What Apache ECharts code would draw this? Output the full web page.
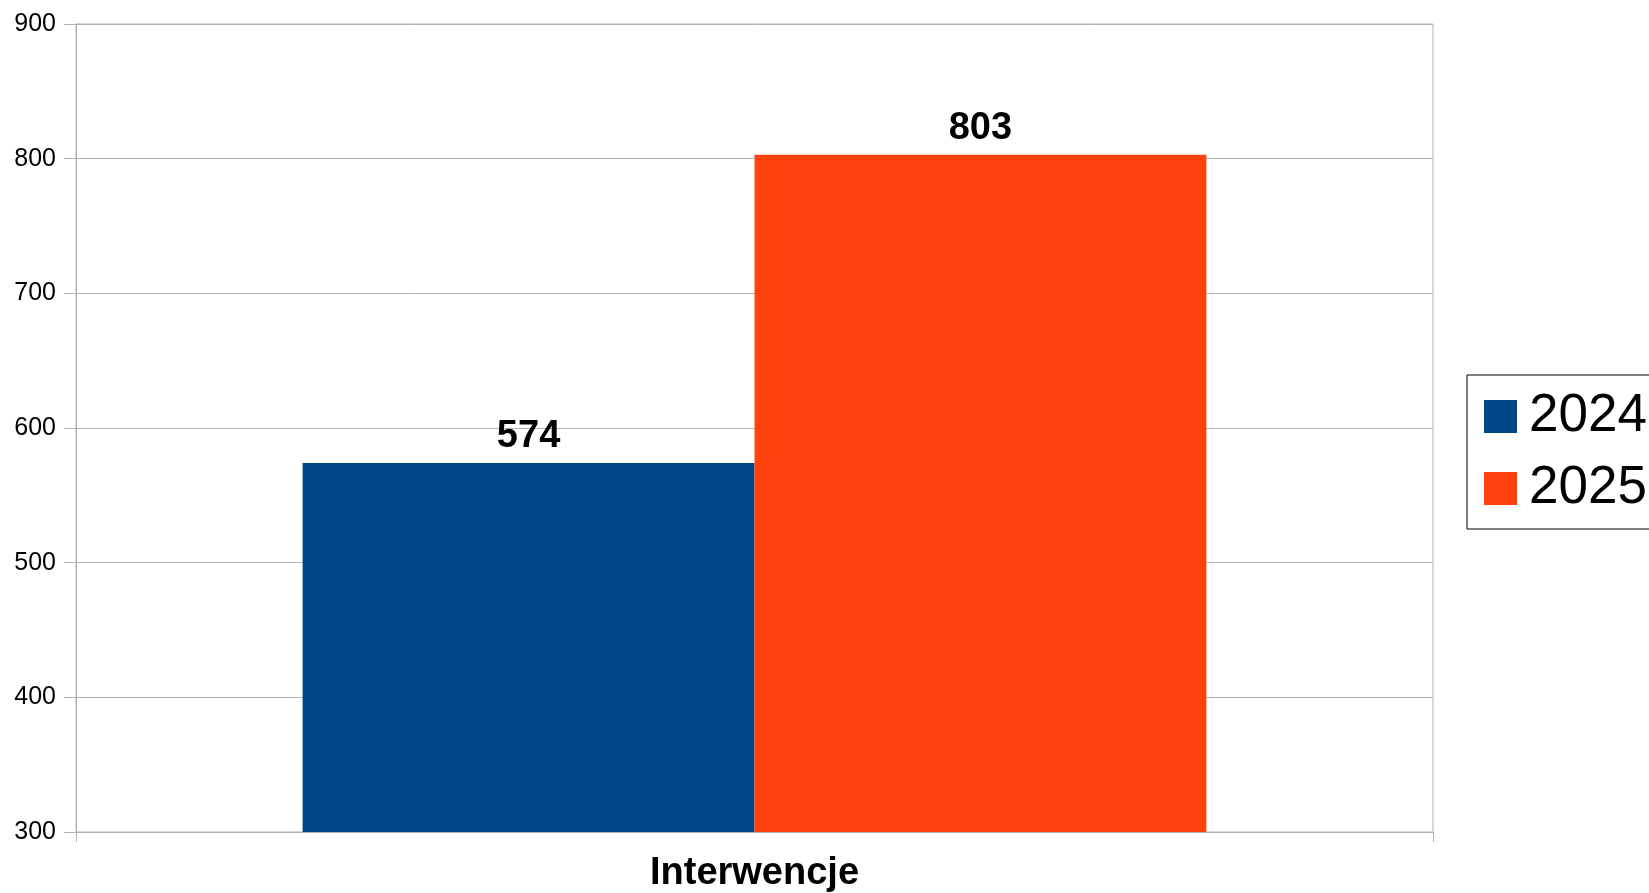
<!DOCTYPE html>
<html><head><meta charset="utf-8">
<script src="https://cdn.jsdelivr.net/npm/echarts@6/dist/echarts.min.js"></script>
<style>html,body{margin:0;padding:0;background:#fff}#c{width:1649px;height:893px}</style>
</head><body><div id="c"></div>
<script>
const categories = ['Interwencje'];
const seriesNames = ['2024', '2025'];
const values2024 = [574];
const values2025 = [803];
const colors = ['#004586', '#ff420e'];
const FONT = '"Liberation Sans", Arial, sans-serif';
const chart = echarts.init(document.getElementById('c'));
const labelCfg = {show: true, position: 'top', distance: 7, color: '#000', fontSize: 38, fontWeight: 'bold', fontFamily: FONT};
chart.setOption({
  animation: false,
  backgroundColor: '#fff',
  textStyle: {fontFamily: FONT},
  grid: {left: 76, right: 216, top: 24, bottom: 60, show: true, borderColor: '#b3b3b3', borderWidth: 1},
  legend: {
    orient: 'vertical', left: 1467, top: 375,
    itemWidth: 33, itemHeight: 33, itemGap: 19,
    padding: [15, 40, 14, 17],
    borderColor: '#000', borderWidth: 1,
    icon: 'rect',
    textStyle: {fontSize: 53, color: '#000', fontFamily: FONT, padding: [0, 0, 0, 7]},
    data: seriesNames
  },
  xAxis: {
    type: 'category', data: categories,
    axisLine: {show: true, lineStyle: {color: '#b3b3b3'}},
    axisTick: {show: true, length: 10, lineStyle: {color: '#b3b3b3'}},
    axisLabel: {fontSize: 38, fontWeight: 'bold', color: '#000', margin: 23, fontFamily: FONT}
  },
  yAxis: {
    type: 'value', min: 300, max: 900, interval: 100,
    axisLine: {show: true, lineStyle: {color: '#b3b3b3'}},
    axisTick: {show: true, length: 12, lineStyle: {color: '#b3b3b3'}},
    axisLabel: {fontSize: 25, color: '#000', margin: 20, fontFamily: FONT},
    splitLine: {lineStyle: {color: '#b3b3b3'}}
  },
  series: [
    {name: seriesNames[0], type: 'bar', data: values2024, itemStyle: {color: colors[0]}, barGap: 0, barCategoryGap: '33.4%', label: labelCfg},
    {name: seriesNames[1], type: 'bar', data: values2025, itemStyle: {color: colors[1]}, barGap: 0, barCategoryGap: '33.4%', label: labelCfg}
  ]
});
</script></body></html>
